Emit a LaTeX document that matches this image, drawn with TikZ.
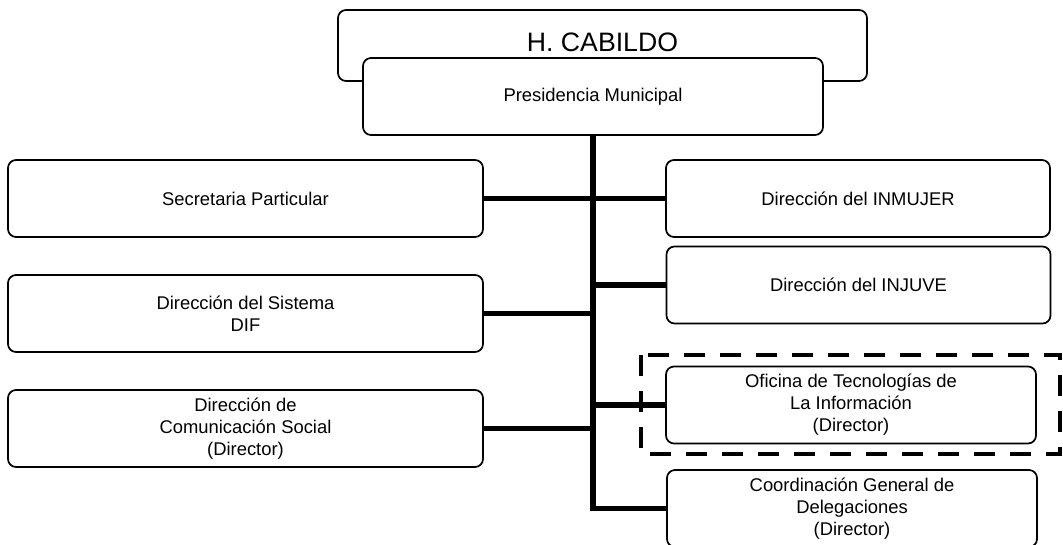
\documentclass[tikz,border=0pt]{standalone}
\usepackage{fontspec}
\setmainfont{Liberation Sans}
\begin{document}
\begin{tikzpicture}[x=0.75pt,y=-0.75pt,
  box/.style={draw, line width=1.3pt, rounded corners=6pt, fill=white, inner sep=0pt,
    align=center, font=\fontsize{13.8}{16.5}\selectfont},
  leftbox/.style={box, minimum width=356.25pt, minimum height=57.75pt},
  rightbox/.style={box, minimum width=288pt, minimum height=57.75pt},
  narrowbox/.style={box, minimum width=277.5pt, minimum height=57.75pt},
  conn/.style={line width=4.2pt},
  dashbox/.style={line width=3.6pt, dash pattern=on 16pt off 11pt}]
\useasboundingbox (0,0) rectangle (1063,544);
% top boxes
\node[box, minimum width=396.75pt, minimum height=53.25pt] (cab) at (602.5,45.5) {};
\node[font=\fontsize{20}{22}\selectfont, inner sep=0pt] (cabt) at (602.5,42) {H. CABILDO};
\node[box, minimum width=345pt, minimum height=57.75pt] (pres) at (593,96.5) {Presidencia Municipal};
% left boxes
\node[leftbox] (sec) at (245.5,198.5) {Secretaria Particular};
\node[leftbox] (dif) at (245.5,313.5) {Dirección del Sistema\\DIF};
\node[leftbox] (com) at (245.5,428.5) {Dirección de\\Comunicación Social\\(Director)};
% right boxes
\node[rightbox] (inm) at (858,198.5) {Dirección del INMUJER};
\node[rightbox] (inj) at (858.5,285) {Dirección del INJUVE};
\node[narrowbox] (ofi) at (851,405) {Oficina de Tecnologías de\\La Información\\(Director)};
\node[narrowbox] (coo) at (852,508.5) {Coordinación General de\\Delegaciones\\(Director)};
% dashed frame
\draw[dashbox] (641,355) rectangle (1060,454);
% trunk
\coordinate (tb) at (pres.south |- coo.west);
\draw[conn] (pres.south) -- (tb) -- (coo.west);
% left connectors
\draw[conn] (sec.east) -- (sec.east -| pres.south);
\draw[conn] (dif.east) -- (dif.east -| pres.south);
\draw[conn] (com.east) -- (com.east -| pres.south);
% right connectors
\draw[conn] (inm.west -| pres.south) -- (inm.west);
\draw[conn] (inj.west -| pres.south) -- (inj.west);
\draw[conn] (ofi.west -| pres.south) -- (ofi.west);
\end{tikzpicture}
\end{document}
